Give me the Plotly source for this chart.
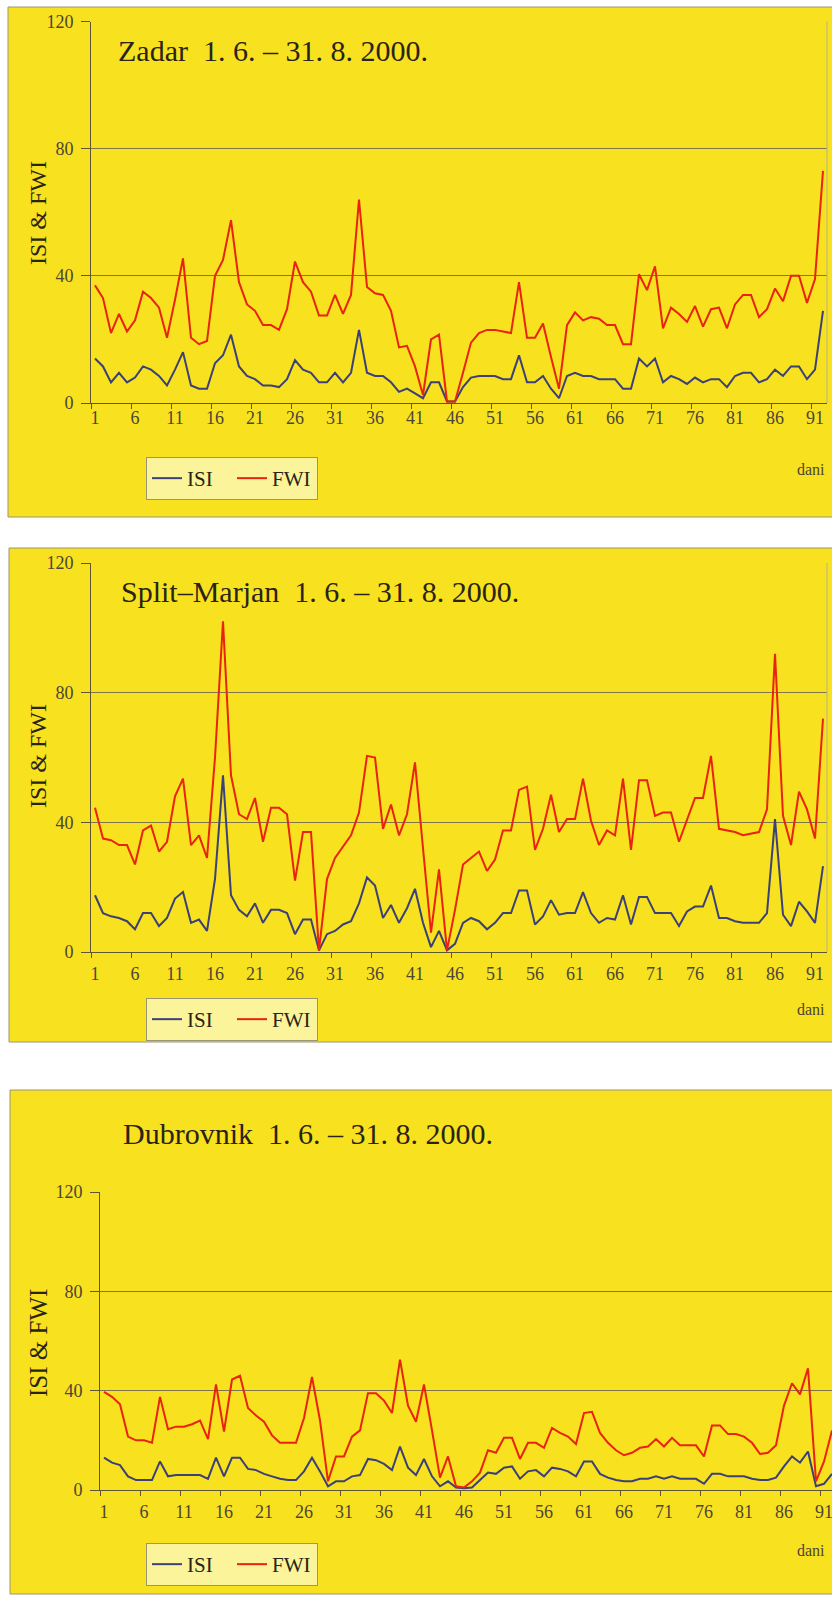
import plotly.graph_objects as go

days = list(range(1, 93))
x_tick_labels = [1, 6, 11, 16, 21, 26, 31, 36, 41, 46, 51, 56, 61, 66, 71, 76, 81, 86, 91]
x_tick_marks = [0.5 + 5 * i for i in range(19)]
y_ticks = [0, 40, 80, 120]

titles = ["Zadar  1. 6. – 31. 8. 2000.",
          "Split–Marjan  1. 6. – 31. 8. 2000.",
          "Dubrovnik  1. 6. – 31. 8. 2000."]
series_names = ["ISI", "FWI"]
y_title = "ISI & FWI"
x_title = "dani"

zadar_isi = [14, 11.5, 6.5, 9.5, 6.5, 8, 11.5, 10.5, 8.5, 5.5,
             10.5, 16, 5.5, 4.5, 4.5, 12.5, 15, 21.5, 11.5, 8.5,
             7.5, 5.5, 5.5, 5, 7.5, 13.5, 10.5, 9.5, 6.5, 6.5,
             9.5, 6.5, 9.5, 23, 9.5, 8.5, 8.5, 6.5, 3.5, 4.5,
             3, 1.5, 6.5, 6.5, 0.5, 0.5, 5, 8, 8.5, 8.5,
             8.5, 7.5, 7.5, 15, 6.5, 6.5, 8.5, 4.5, 1.5, 8.5,
             9.5, 8.5, 8.5, 7.5, 7.5, 7.5, 4.5, 4.5, 14, 11.5,
             14, 6.5, 8.5, 7.5, 6, 8, 6.5, 7.5, 7.5, 5,
             8.5, 9.5, 9.5, 6.5, 7.5, 10.5, 8.5, 11.5, 11.5, 7.5,
             10.5, 29]
zadar_fwi = [37, 33, 22, 28, 22.5, 26, 35, 33, 30, 20.5,
             32.5, 45.5, 20.5, 18.5, 19.5, 40, 45, 57.5, 38, 31,
             29, 24.5, 24.5, 23, 29.5, 44.5, 38, 35, 27.5, 27.5,
             34, 28, 34, 64, 36.5, 34.5, 34, 29, 17.5, 18,
             11.5, 2.5, 20, 21.5, 0.5, 0.5, 9.5, 19, 22, 23,
             23, 22.5, 22, 38, 20.5, 20.5, 25, 14.5, 4.5, 24.5,
             28.5, 26, 27, 26.5, 24.5, 24.5, 18.5, 18.5, 40.5, 35.5,
             43, 23.5, 30, 28, 25.5, 30.5, 24, 29.5, 30, 23.5,
             31, 34, 34, 27, 29.5, 36, 32, 40, 40, 31.5,
             39, 73]
split_isi = [17.5, 12, 11, 10.5, 9.5, 7, 12, 12, 8, 10.5,
             16.5, 18.5, 9, 10, 6.5, 22.5, 54.5, 17.5, 13, 11,
             15, 9, 13, 13, 12, 5.5, 10, 10, 0.5, 5.5,
             6.5, 8.5, 9.5, 15, 23, 20.5, 10.5, 14.5, 9, 13.5,
             19.5, 9, 1.5, 6.5, 0.5, 2.5, 9, 10.5, 9.5, 7,
             9, 12, 12, 19, 19, 8.5, 11, 16, 11.5, 12,
             12, 18.5, 12, 9, 10.5, 10, 17.5, 8.5, 17, 17,
             12, 12, 12, 8, 12.5, 14, 14, 20.5, 10.5, 10.5,
             9.5, 9, 9, 9, 12, 41, 11.5, 8, 15.5, 12.5,
             9, 26.5]
split_fwi = [44.5, 35, 34.5, 33, 33, 27, 37.5, 39, 31, 34,
             48, 53.5, 33, 36, 29, 60, 102, 54.5, 42.5, 41,
             47.5, 34, 44.5, 44.5, 42.5, 22, 37, 37, 0.5, 22.5,
             29, 32.5, 36, 43, 60.5, 60, 38, 45.5, 36, 42.5,
             58.5, 32, 6, 25.5, 0.5, 13, 27, 29, 31, 25,
             28.5, 37.5, 37.5, 50, 51, 31.5, 38, 48.5, 37, 41,
             41, 53.5, 40.5, 33, 37.5, 36, 53.5, 31.5, 53, 53,
             42, 43, 43, 34, 41, 47.5, 47.5, 60.5, 38, 37.5,
             37, 36, 36.5, 37, 44, 92, 42, 33, 49.5, 44,
             35, 72]
dubrovnik_isi = [13, 11, 10, 5.5, 4, 4, 4, 11.5, 5.5, 6,
                 6, 6, 6, 4.5, 13, 5.5, 13, 13, 8.5, 8,
                 6.5, 5.5, 4.5, 4, 4, 7.5, 13, 7.5, 1.5, 3.5,
                 3.5, 5.5, 6, 12.5, 12, 10.5, 8, 17.5, 9, 6,
                 12.5, 5.5, 1.5, 3.5, 1, 0.7, 1, 4, 7, 6.5,
                 9, 9.5, 4.5, 7.5, 8, 5.5, 9, 8.5, 7.5, 5.5,
                 11.5, 11.5, 6.5, 5, 4, 3.5, 3.5, 4.5, 4.5, 5.5,
                 4.5, 5.5, 4.5, 4.5, 4.5, 2.5, 6.5, 6.5, 5.5, 5.5,
                 5.5, 4.5, 4, 4, 5, 9.5, 13.5, 11, 15.5, 1.5,
                 2.5, 6.5]
dubrovnik_fwi = [39.5, 37.5, 34.5, 21.5, 20, 20, 19, 37.5, 24.5, 25.5,
                 25.5, 26.5, 28, 20.5, 42.5, 23.5, 44.5, 46, 33, 30,
                 27.5, 22, 19, 19, 19, 29, 45.5, 28, 3.5, 13.5,
                 13.5, 21.5, 24, 39, 39, 36, 31, 52.5, 34, 27.5,
                 42.5, 24, 5, 13.5, 1.5, 1, 3.5, 7, 16, 15,
                 21, 21, 12.5, 19, 19, 17, 25, 23, 21.5, 18.5,
                 31, 31.5, 23, 19, 16, 14, 15, 17, 17.5, 20.5,
                 17.5, 21, 18, 18, 18, 13.5, 26, 26, 22.5, 22.5,
                 21.5, 19, 14.5, 15, 18, 34, 43, 38.5, 49, 3.5,
                 11.5, 24]

W, H = 832, 1597
OUTER = "#F8E11E"
PLOTBG = "#FBF47A"
ISI_C = "#3B4079"
FWI_C = "#E8230F"
AXC = "#5E5634"
GRIDC = "#7E7648"
TXT = "#2A2418"
TICKC = "#4D4535"
FONT = "Liberation Serif"


def px(v):
    return v / W


def py(v):
    return 1 - v / H


panels = [
    dict(isi=zadar_isi, fwi=zadar_fwi, box=(8, 7, 517), plot=(91, 827, 21.5, 403),
         xr=[0.5, 92.5], title_xy=(116, 50), ytitle_xy=(38, 213), ysize=24,
         legend_y=457, dani_y=469, standoff=-2, rightline=True),
    dict(isi=split_isi, fwi=split_fwi, box=(9, 548, 1042), plot=(91, 827, 563, 952),
         xr=[0.5, 92.5], title_xy=(119, 591), ytitle_xy=(38, 756), ysize=24,
         legend_y=998, dani_y=1009, standoff=5, rightline=True),
    dict(isi=dubrovnik_isi, fwi=dubrovnik_fwi, box=(10, 1090, 1594), plot=(100, 832, 1192, 1490),
         xr=[0.5, 92.0], title_xy=(121, 1133), ytitle_xy=(38, 1343), ysize=25,
         legend_y=1543, dani_y=1550, standoff=5, rightline=False),
]

fig = go.Figure()
shapes = []
annotations = []
layout = dict(width=W, height=H, margin=dict(l=0, r=0, t=0, b=0, pad=0, autoexpand=False),
              paper_bgcolor="white", plot_bgcolor=PLOTBG, showlegend=True)

for i, p in enumerate(panels):
    n = "" if i == 0 else str(i + 1)
    xa, ya = "x" + n, "y" + n
    leg = "legend" + n
    for name, vals, col in [(series_names[0], p["isi"], ISI_C), (series_names[1], p["fwi"], FWI_C)]:
        fig.add_trace(go.Scatter(x=days, y=vals, mode="lines", name=name,
                                 line=dict(color=col, width=2),
                                 xaxis=xa, yaxis=ya, legend=leg, hoverinfo="skip"))
    l, r, t, b = p["plot"]
    layout["xaxis" + n] = dict(
        domain=[px(l), min(1.0, px(r))], anchor=ya, range=p["xr"], automargin=False,
        tickmode="array", tickvals=x_tick_labels, ticktext=[str(v) for v in x_tick_labels],
        ticks="", showgrid=False, zeroline=False, showline=True, linecolor=AXC, linewidth=1,
        tickfont=dict(family=FONT, size=18, color=TICKC), ticklabelstandoff=p["standoff"],
        ticklabeloverflow="allow",
        minor=dict(tickmode="array", tickvals=x_tick_marks, ticks="outside", ticklen=5,
                   tickcolor=AXC, tickwidth=1, showgrid=False),
    )
    layout["yaxis" + n] = dict(
        domain=[py(b), py(t)], anchor=xa, range=[0, 120], automargin=False,
        tickmode="array", tickvals=y_ticks, ticks="outside", ticklen=9, tickcolor=AXC,
        showgrid=True, gridcolor=GRIDC, gridwidth=1, zeroline=False,
        showline=True, linecolor=AXC, linewidth=1,
        tickfont=dict(family=FONT, size=18, color=TICKC), ticklabelstandoff=4,
    )
    bl, bt, bb = p["box"]
    shapes.append(dict(type="rect", xref="paper", yref="paper", layer="below",
                       x0=px(bl), x1=1.02, y0=py(bb), y1=py(bt),
                       fillcolor=OUTER, line=dict(color="#9C9670", width=1)))
    if p["rightline"]:
        shapes.append(dict(type="line", xref="paper", yref="paper",
                           x0=px(r), x1=px(r), y0=py(b), y1=py(t),
                           line=dict(color="#B8B290", width=1)))
    tx, ty = p["title_xy"]
    annotations.append(dict(text=titles[i], xref="paper", yref="paper", x=px(tx), y=py(ty),
                            xanchor="left", yanchor="middle", showarrow=False,
                            font=dict(family=FONT, size=30, color=TXT)))
    yx, yy = p["ytitle_xy"]
    annotations.append(dict(text=y_title, xref="paper", yref="paper", x=px(yx), y=py(yy),
                            xanchor="center", yanchor="middle", textangle=-90, showarrow=False,
                            font=dict(family=FONT, size=p["ysize"], color=TXT)))
    annotations.append(dict(text=x_title, xref="paper", yref="paper", x=px(811), y=py(p["dani_y"]),
                            xanchor="center", yanchor="middle", showarrow=False,
                            font=dict(family=FONT, size=16, color=TICKC)))
    layout[leg] = dict(x=px(146), y=py(p["legend_y"]), xanchor="left", yanchor="top",
                       orientation="h", bgcolor="#FBF49A", bordercolor="#9C9670", borderwidth=1,
                       font=dict(family=FONT, size=21, color=TXT), itemwidth=30,
                       entrywidth=40, entrywidthmode="pixels", tracegroupgap=0)

layout["shapes"] = shapes
layout["annotations"] = annotations
fig.update_layout(**layout)

pin_script = (
    "document.documentElement.style.margin='0';"
    "document.body.style.margin='0';"
    "document.documentElement.style.overflow='hidden';"
    "document.body.style.overflow='hidden';"
    "var gd=document.getElementById('{plot_id}');"
    "gd.style.position='absolute';gd.style.left='0px';gd.style.top='0px';"
)
fig.write_html("out.html", config={"displayModeBar": False}, post_script=pin_script)
